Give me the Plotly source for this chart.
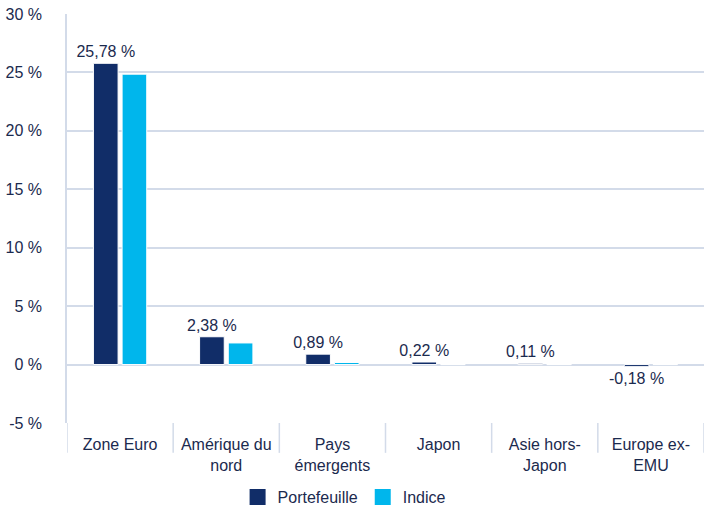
import plotly.graph_objects as go

categories = ["Zone Euro", "Amérique du<br>nord", "Pays<br>émergents", "Japon", "Asie hors-<br>Japon", "Europe ex-<br>EMU"]
portefeuille = [25.78, 2.38, 0.89, 0.22, 0.11, -0.18]
indice = [24.85, 1.85, 0.18, 0.0, 0.0, 0.0]
y_ticks = [-5, 0, 5, 10, 15, 20, 25, 30]
y_ticklabels = [f"{v} %" for v in y_ticks]

navy = "#112d68"
cyan = "#00b6ec"
text_col = "#1b2a4e"
grid_col = "#d3dbe9"
font = "Liberation Sans, Arial, sans-serif"
fs = 16

labels = [f"{v:.2f}".replace(".", ",") + " %" for v in portefeuille]

fig = go.Figure()
fig.add_trace(go.Bar(
    x=categories, y=portefeuille, name="Portefeuille", showlegend=False,
    marker=dict(color=navy, line=dict(color="white", width=1)),
    text=labels, textposition="outside", cliponaxis=False,
    constraintext="none",
    textfont=dict(family=font, size=fs, color=text_col),
))
fig.add_trace(go.Bar(
    x=categories, y=indice, name="Indice", showlegend=False,
    marker=dict(color=cyan, line=dict(color="white", width=1)),
))
# legend entries with larger square swatches
for name, col in [("Portefeuille", navy), ("Indice", cyan)]:
    fig.add_trace(go.Scatter(
        x=[None], y=[None], mode="markers", name=name,
        marker=dict(symbol="square", size=20, color=col),
    ))

# category separators below the plot
for i in range(len(categories) + 1):
    fig.add_shape(type="line", xref="x", yref="y domain",
                  x0=i - 0.5, x1=i - 0.5, y0=-0.073, y1=0,
                  line=dict(color=grid_col, width=1.5))

fig.update_layout(
    width=704, height=514,
    margin=dict(l=67, r=0, t=14, b=89),
    paper_bgcolor="white", plot_bgcolor="white",
    barmode="group", bargap=0.46, bargroupgap=0.14,
    font=dict(family=font, size=fs, color=text_col),
    showlegend=True,
    legend=dict(orientation="h", x=0.435, xanchor="center", y=-0.14, yanchor="top",
                font=dict(family=font, size=fs, color=text_col), itemwidth=30,
                tracegroupgap=0),
    xaxis=dict(showgrid=False, showline=False, ticks="", automargin=False,
               ticklabelstandoff=10,
               tickfont=dict(family=font, size=fs, color=text_col),
               range=[-0.5, len(categories) - 0.5]),
    yaxis=dict(range=[-5, 30], tickvals=y_ticks, ticktext=y_ticklabels,
               automargin=False,
               showgrid=True, gridcolor=grid_col, gridwidth=1.5,
               zeroline=True, zerolinecolor=grid_col, zerolinewidth=1.5,
               showline=True, linecolor=grid_col, linewidth=1.5,
               ticks="", ticklabelstandoff=20,
               tickfont=dict(family=font, size=fs, color=text_col)),
)

fig.write_html("out.html",
               config={"displayModeBar": False},
               post_script="document.body.style.margin='0';document.body.style.overflow='hidden';")
